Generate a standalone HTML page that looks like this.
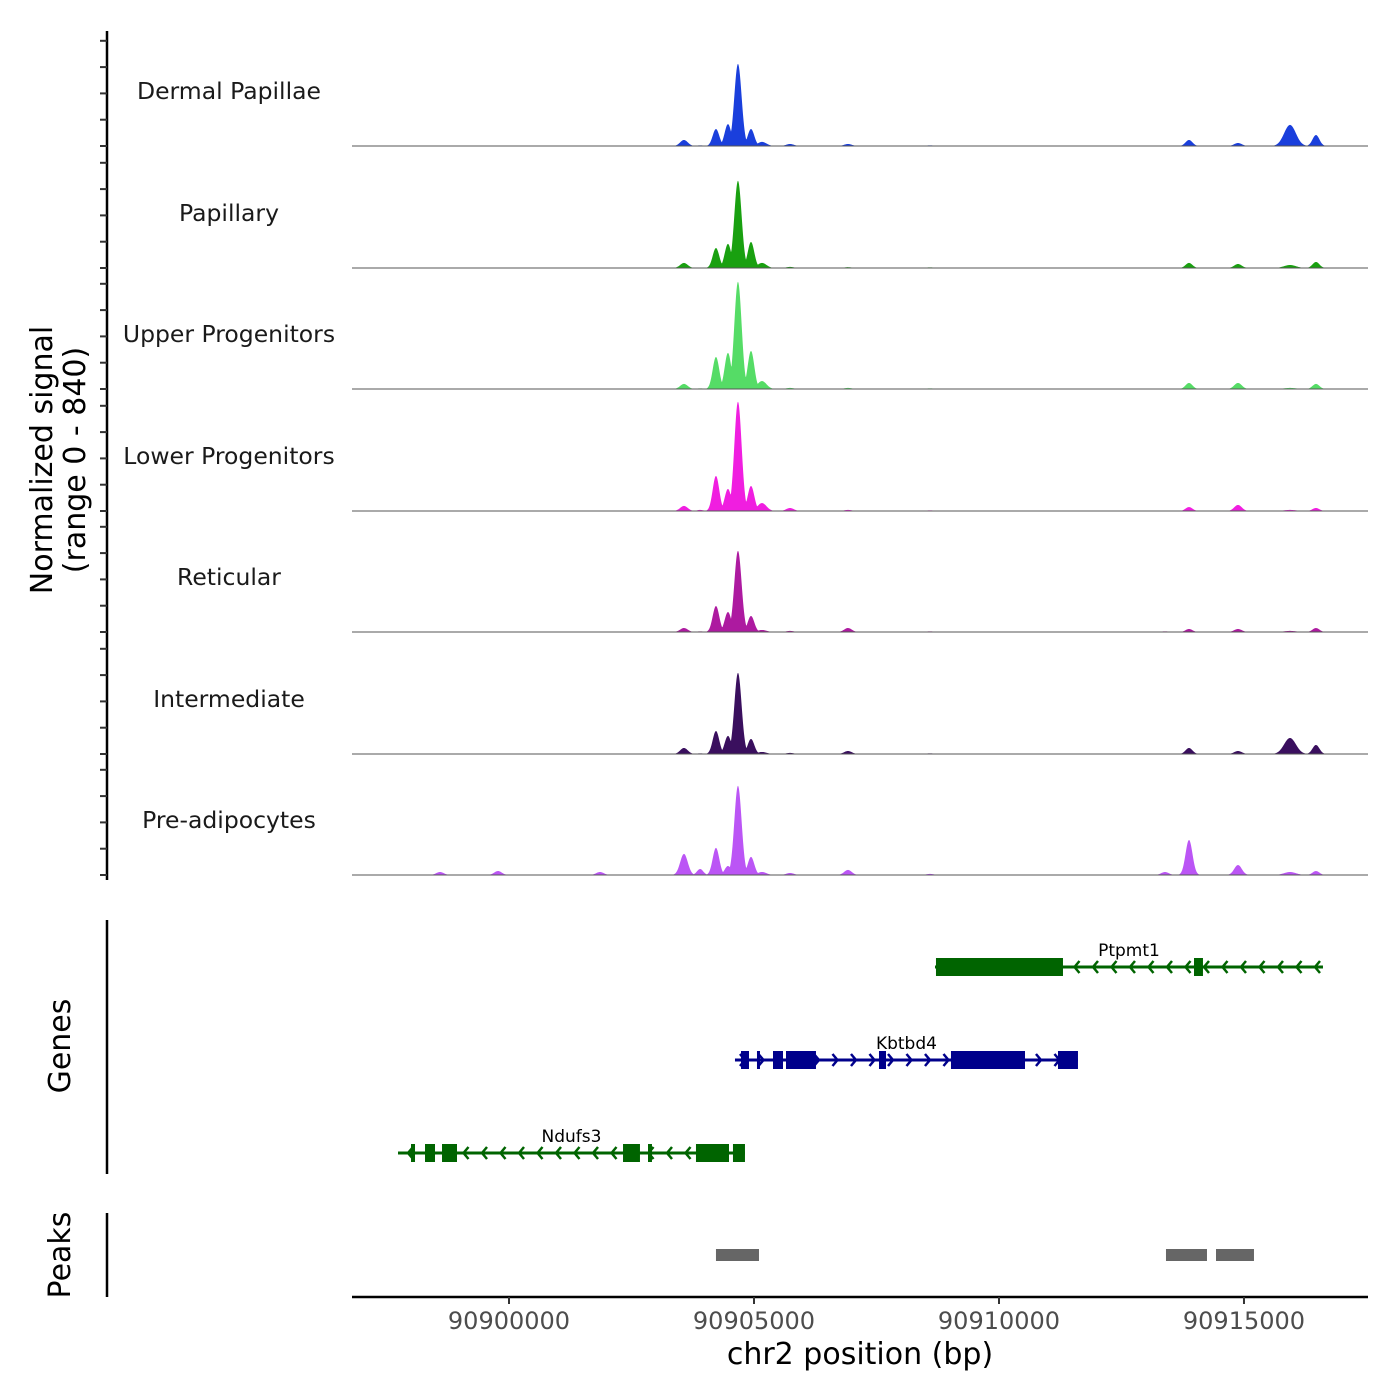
<!DOCTYPE html>
<html><head><meta charset="utf-8"><style>
html,body{margin:0;padding:0;background:#fff;}
svg{display:block;font-family:"DejaVu Sans","Liberation Sans",sans-serif;}
</style></head><body>
<svg id="chart" width="1400" height="1400" viewBox="0 0 1400 1400">
<g id="tracks"></g>
<g id="genes"></g>
<g id="peaks"></g>
<g id="axes"></g>
</svg>
<script>
// ---- data ----
const trackNames = ["Dermal Papillae","Papillary","Upper Progenitors","Lower Progenitors","Reticular","Intermediate","Pre-adipocytes"];
const trackColors = ["#1a3fdc","#19a010","#55dc66","#f01ee0","#ad1aa0","#3a0f5e","#bb55f5"];
const peakPositions = [90898592,90899776,90901857,90903571,90903900,90904224,90904469,90904673,90904939,90905163,90905735,90906918,90908592,90913388,90913878,90914878,90915939,90916469];
const dermalValues =    [3,3,3,44,5,124,160,600,124,30,15,15,5,4,44,22,154,80];
const papillaryValues = [3,3,3,37,4,146,176,637,190,37,8,6,5,4,37,29,22,44];
const upperValues =     [3,3,3,37,5,234,264,783,278,58,8,8,5,4,44,44,8,37];
const lowerValues =     [4,4,4,37,8,256,161,798,183,58,22,8,5,4,29,44,8,22];
const reticularValues = [3,3,3,29,5,190,146,593,117,15,8,29,5,5,22,22,8,29];
const intermediateValues=[3,3,3,44,5,168,132,593,110,15,8,22,5,4,44,22,117,66];
const preadipValues =   [22,29,22,154,44,198,66,652,132,22,15,37,8,22,256,73,22,29];
const trackValues = [dermalValues,papillaryValues,upperValues,lowerValues,reticularValues,intermediateValues,preadipValues];
const peakWidths = [110,110,110,110,90,95,95,105,95,130,110,110,110,110,100,110,170,100];
const signalEnd = 90916650;

const genes = [
 {name:"Ptpmt1",strand:-1,color:"#006400",row:0,start:90908694,end:90916612,exons:[[90908714,90911306],[90913980,90914163]]},
 {name:"Kbtbd4",strand:1,color:"#00008b",row:1,start:90904612,end:90911612,exons:[[90904735,90904898],[90905061,90905122],[90905388,90905592],[90905653,90906265],[90907551,90907694],[90909020,90910531],[90911204,90911612]]},
 {name:"Ndufs3",strand:-1,color:"#006400",row:2,start:90897735,end:90904816,exons:[[90898000,90898082],[90898286,90898490],[90898633,90898939],[90902327,90902673],[90902837,90902918],[90903816,90904490],[90904571,90904816]]}
];
const peakRegions = [[90904224,90905102],[90913408,90914245],[90914429,90915204]];
const xTicks = [90900000,90905000,90910000,90915000];

// ---- scales ----
const NS="http://www.w3.org/2000/svg";
const xMin=90896796, xMax=90917531, pxL=352, pxR=1368;
const X = bp => pxL + (bp-xMin)/(xMax-xMin)*(pxR-pxL);
const yMaxVal=840, trackPx=115;
const baselines=[146,268,389,511,632,754,875];
function mk(tag,attrs,parent){const e=document.createElementNS(NS,tag);for(const k in attrs)e.setAttribute(k,attrs[k]);parent.appendChild(e);return e;}

const tracksG=document.getElementById('tracks');
trackNames.forEach((name,ti)=>{
  const b=baselines[ti], vals=trackValues[ti];
  const g=mk('g',{},tracksG);
  
  
  let d='M'+pxL+' '+b;
  const xEnd=X(signalEnd);
  for(let px=pxL;px<=xEnd;px+=0.5){
    const bp=xMin+(px-pxL)/(pxR-pxL)*(xMax-xMin);
    let v=0;
    for(let i=0;i<peakPositions.length;i++){
      const dx=(bp-peakPositions[i])/peakWidths[i];
      const c=vals[i]*Math.exp(-dx*dx);
      if(c>v)v=c;
    }
    d+=' L'+px.toFixed(1)+' '+(b-v/yMaxVal*trackPx).toFixed(2);
  }
  d+=' L'+xEnd.toFixed(1)+' '+b+' Z';
  const p=mk('path',{d:d,fill:trackColors[ti]},g);
  
  
  const l=mk('line',{x1:pxL,x2:pxR,y1:b,y2:b,stroke:'#555','stroke-width':1},g);
  
  
  const t=mk('text',{x:229,y:b-47,'text-anchor':'middle','font-size':23.5,fill:'#1a1a1a'},g);
  t.textContent=name;
  
  
});

// genes
const genesG=document.getElementById('genes');
const rowY=[967,1060,1153];
genes.forEach(gn=>{
  const y=rowY[gn.row];
  const g=mk('g',{},genesG);
  
  
  const x1=X(gn.start),x2=X(gn.end);
  mk('line',{x1:x1,x2:x2,y1:y,y2:y,stroke:gn.color,'stroke-width':3},g);
  for(let ax=x1+10;ax<x2-6;ax+=18.5){
    const s=gn.strand*5;
    mk('polyline',{points:(ax-s)+','+(y-6)+' '+ax+','+y+' '+(ax-s)+','+(y+6),fill:'none',stroke:gn.color,'stroke-width':2.5},g);
  }
  gn.exons.forEach(e=>{
    const r=mk('rect',{x:X(e[0]),y:y-9,width:Math.max(3,X(e[1])-X(e[0])),height:18,fill:gn.color},g);
    
    
  });
  const t=mk('text',{x:(x1+x2)/2,y:y-11,'text-anchor':'middle','font-size':17,fill:'#000'},g);
  t.textContent=gn.name;
  
  
});

// peaks
const peaksG=document.getElementById('peaks');
peakRegions.forEach(r=>{
  const e=mk('rect',{x:X(r[0]),y:1249,width:X(r[1])-X(r[0]),height:12,fill:'#666'},peaksG);
  
  
});

// axes
const ax=document.getElementById('axes');
mk('line',{x1:107,x2:107,y1:31,y2:880,stroke:'#000','stroke-width':2.5},ax);
baselines.forEach(b=>{for(let k=0;k<5;k++){const yy=b-k*26.3;mk('line',{x1:100,x2:107,y1:yy,y2:yy,stroke:'#333','stroke-width':2},ax);}});
let yt=mk('text',{transform:'translate(52,460) rotate(-90)','text-anchor':'middle','font-size':30,fill:'#000'},ax);
yt.textContent='Normalized signal';


let yt2=mk('text',{transform:'translate(85,460) rotate(-90)','text-anchor':'middle','font-size':30,fill:'#000'},ax);
yt2.textContent='(range 0 - 840)';


mk('line',{x1:107,x2:107,y1:920,y2:1174,stroke:'#000','stroke-width':2.5},ax);
let gt=mk('text',{transform:'translate(70,1046) rotate(-90)','text-anchor':'middle','font-size':30,fill:'#000'},ax);
gt.textContent='Genes';


mk('line',{x1:107,x2:107,y1:1213,y2:1297,stroke:'#000','stroke-width':2.5},ax);
let pt=mk('text',{transform:'translate(70,1255) rotate(-90)','text-anchor':'middle','font-size':30,fill:'#000'},ax);
pt.textContent='Peaks';


mk('line',{x1:352,x2:1368,y1:1297,y2:1297,stroke:'#000','stroke-width':2.5},ax);
xTicks.forEach(v=>{
  const x=X(v);
  mk('line',{x1:x,x2:x,y1:1297,y2:1304,stroke:'#333','stroke-width':2},ax);
  const t=mk('text',{x:x,y:1329,'text-anchor':'middle','font-size':24,fill:'#4d4d4d'},ax);
  t.textContent=v;
  
  
});
let xt=mk('text',{x:860,y:1364,'text-anchor':'middle','font-size':30,fill:'#000'},ax);
xt.textContent='chr2 position (bp)';


</script>
</body></html>
